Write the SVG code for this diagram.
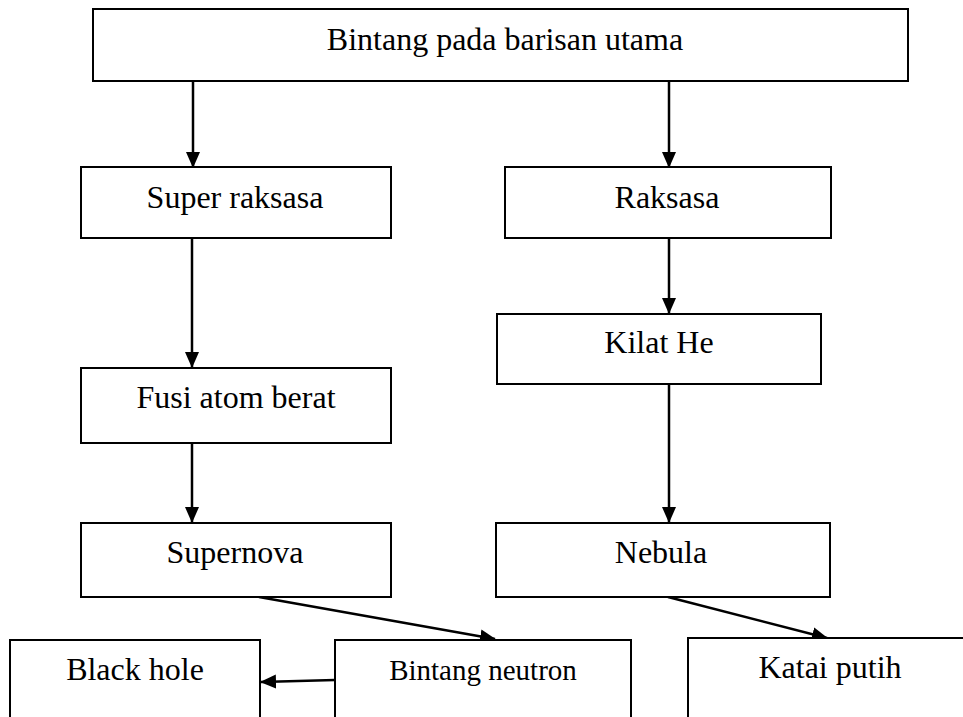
<svg xmlns="http://www.w3.org/2000/svg" width="963" height="717" viewBox="0 0 963 717">
<style>
.box{fill:#fff;stroke:#000;stroke-width:2}
.t{font-family:"Liberation Serif","Times New Roman",serif;font-size:32px;fill:#000;text-anchor:middle}
.ts{font-size:29px}
.c{stroke:#000;stroke-width:2.5;fill:none;marker-end:url(#ah)}
</style>
<defs>
<marker id="ah" markerUnits="userSpaceOnUse" markerWidth="16" markerHeight="16" viewBox="0 0 16 16" refX="15" refY="8" orient="auto">
<path d="M0,1 L16,8 L0,15 Z" fill="#000"/>
</marker>
</defs>
<rect width="963" height="717" fill="#fff"/>
<g id="connectors">
<line class="c" x1="193" y1="81" x2="193" y2="167"/>
<line class="c" x1="669" y1="81" x2="669" y2="167"/>
<line class="c" x1="192" y1="238" x2="192" y2="367"/>
<line class="c" x1="669" y1="238" x2="669" y2="313"/>
<line class="c" x1="192" y1="443" x2="192" y2="522"/>
<line class="c" x1="669" y1="383" x2="669" y2="522"/>
<line class="c" x1="259" y1="597" x2="495" y2="639"/>
<line class="c" x1="668" y1="597" x2="827" y2="638"/>
<line class="c" x1="335" y1="680" x2="261" y2="682"/>
</g>
<g id="n-top"><rect class="box" x="93" y="9" width="815" height="72"/><text class="t" x="505" y="50">Bintang pada barisan utama</text></g>
<g id="n-superraksasa"><rect class="box" x="81" y="167" width="310" height="71"/><text class="t" x="235" y="208">Super raksasa</text></g>
<g id="n-raksasa"><rect class="box" x="505" y="167" width="326" height="71"/><text class="t" x="667" y="208">Raksasa</text></g>
<g id="n-kilat"><rect class="box" x="497" y="314" width="324" height="70"/><text class="t" x="659" y="353">Kilat He</text></g>
<g id="n-fusi"><rect class="box" x="81" y="368" width="310" height="75"/><text class="t" x="236" y="408">Fusi atom berat</text></g>
<g id="n-supernova"><rect class="box" x="81" y="523" width="310" height="74"/><text class="t" x="235" y="563">Supernova</text></g>
<g id="n-nebula"><rect class="box" x="496" y="523" width="334" height="74"/><text class="t" x="661" y="563">Nebula</text></g>
<g id="n-blackhole"><path class="box" d="M10,720 L10,640 L260,640 L260,720"/><text class="t" x="135" y="680">Black hole</text></g>
<g id="n-neutron"><path class="box" d="M335,720 L335,640 L631,640 L631,720"/><text class="t ts" x="483" y="680">Bintang neutron</text></g>
<g id="n-katai"><path class="box" d="M688,720 L688,638 L966,638"/><text class="t" x="830" y="678">Katai putih</text></g>
</svg>
